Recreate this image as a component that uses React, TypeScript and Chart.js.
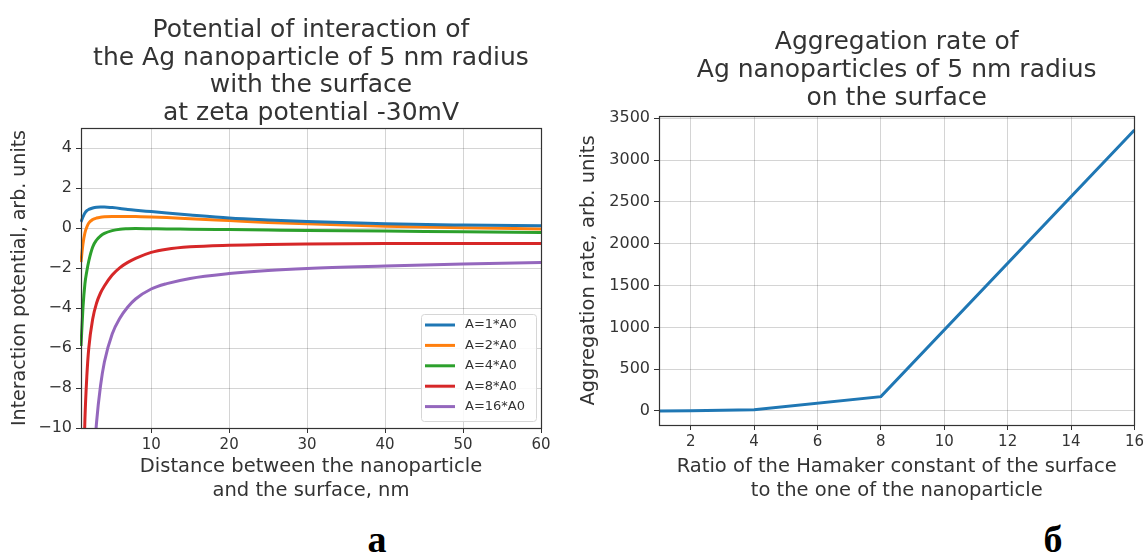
import React, { useEffect, useRef } from "react";
import { Chart, registerables } from "chart.js";

Chart.register(...registerables);

// ---------- data: left chart (interaction potential) ----------
const distanceNm = [1, 1.25, 1.5, 1.75, 2, 2.5, 3, 3.5, 4, 5, 6, 7, 8, 10, 12, 15, 20, 25, 30, 40, 50, 60];
const potentialA1 = [0.3, 0.55, 0.75, 0.87, 0.93, 1.0, 1.04, 1.05, 1.05, 1.02, 0.98, 0.93, 0.89, 0.82, 0.75, 0.65, 0.5, 0.4, 0.32, 0.21, 0.15, 0.11];
const potentialA2 = [-1.7, -0.8, -0.25, 0.05, 0.25, 0.42, 0.5, 0.54, 0.56, 0.58, 0.58, 0.58, 0.57, 0.55, 0.52, 0.46, 0.37, 0.28, 0.21, 0.09, 0.01, -0.05];
const potentialA4 = [-5.9, -4.0, -2.8, -2.15, -1.65, -0.95, -0.6, -0.4, -0.27, -0.13, -0.06, -0.04, -0.03, -0.04, -0.05, -0.06, -0.08, -0.1, -0.12, -0.15, -0.19, -0.22];
const potentialA8 = [-20, -13.5, -9.6, -7.4, -6.0, -4.55, -3.75, -3.25, -2.9, -2.35, -1.98, -1.72, -1.52, -1.22, -1.06, -0.94, -0.86, -0.82, -0.8, -0.78, -0.78, -0.78];
const potentialA16 = [-45, -34, -27, -21, -17, -12.5, -9.7, -7.9, -6.7, -5.3, -4.5, -3.95, -3.55, -3.05, -2.78, -2.52, -2.28, -2.12, -2.02, -1.9, -1.8, -1.73];
const seriesLabels = ["A=1*A0", "A=2*A0", "A=4*A0", "A=8*A0", "A=16*A0"];
const potentialXTicks = [10, 20, 30, 40, 50, 60];
const potentialYTicks = [-10, -8, -6, -4, -2, 0, 2, 4];

// ---------- data: right chart (aggregation rate) ----------
const hamakerRatio = [1, 2, 4, 8, 16];
const aggregationRate = [0, 2, 15, 171, 3360];
const ratioXTicks = [2, 4, 6, 8, 10, 12, 14, 16];
const rateYTicks = [0, 500, 1000, 1500, 2000, 2500, 3000, 3500];

const leftTitle = [
  "Potential of interaction of",
  "the Ag nanoparticle of 5 nm radius",
  "with the surface",
  "at zeta potential -30mV",
];
const leftXLabel = ["Distance between the nanoparticle", "and the surface, nm"];
const leftYLabel = "Interaction potential, arb. units";
const rightTitle = ["Aggregation rate of", "Ag nanoparticles of 5 nm radius", "on the surface"];
const rightXLabel = ["Ratio of the Hamaker constant of the surface", "to the one of the nanoparticle"];
const rightYLabel = "Aggregation rate, arb. units";

const FONT = "'DejaVu Sans', sans-serif";
const TEXT = "#333333";
const GRID = "rgba(0,0,0,0.17)";
const COLORS = ["#1f77b4", "#ff7f0e", "#2ca02c", "#d62728", "#9467bd"];

const fmt = (v: number | string) => String(v).replace("-", "\u2212");

const framePlugin = {
  id: "frame",
  afterDatasetsDraw(chart: any) {
    const { ctx, chartArea } = chart;
    const l = Math.floor(chartArea.left) + 0.5;
    const t = Math.floor(chartArea.top) + 0.5;
    const r = Math.floor(chartArea.right) + 0.5;
    const b = Math.floor(chartArea.bottom) + 0.5;
    ctx.save();
    ctx.strokeStyle = "#333";
    ctx.lineWidth = 1.2;
    ctx.strokeRect(l, t, r - l, b - t);
    ctx.restore();
  },
};

const insetLegend = {
  id: "insetLegend",
  afterDraw(chart: any) {
    const { ctx, chartArea } = chart;
    const w = 115;
    const h = 107;
    const x = Math.floor(chartArea.right) - 120;
    const y = Math.floor(chartArea.bottom) - 114;
    ctx.save();
    ctx.beginPath();
    ctx.roundRect(x + 0.5, y + 0.5, w, h, 3);
    ctx.fillStyle = "rgba(255,255,255,0.85)";
    ctx.fill();
    ctx.strokeStyle = "#d6d6d6";
    ctx.lineWidth = 1;
    ctx.stroke();
    chart.data.datasets.forEach((ds: any, i: number) => {
      const cy = y + 11 + i * 20.4;
      ctx.beginPath();
      ctx.moveTo(x + 4, cy);
      ctx.lineTo(x + 34, cy);
      ctx.strokeStyle = ds.borderColor;
      ctx.lineWidth = 3;
      ctx.stroke();
      ctx.fillStyle = TEXT;
      ctx.font = `13px ${FONT}`;
      ctx.textBaseline = "middle";
      ctx.textAlign = "left";
      ctx.fillText(ds.label, x + 44, cy);
    });
    ctx.restore();
  },
};

function axis(opts: any) {
  const { min, max, ticks, fit, isX, tickSize, title, titleSize, titleLH, titlePad } = opts;
  return {
    type: "linear",
    min,
    max,
    afterFit: (s: any) => {
      if (isX) s.height = fit;
      else s.width = fit;
    },
    afterBuildTicks: (s: any) => {
      s.ticks = ticks.map((v: number) => ({ value: v }));
    },
    ticks: {
      font: { family: FONT, size: tickSize },
      color: TEXT,
      padding: isX ? 3 : 4,
      maxRotation: 0,
      autoSkip: false,
      callback: (v: number) => fmt(v),
    },
    grid: { color: GRID, tickColor: "#333", tickLength: 5, lineWidth: 1, drawTicks: true },
    border: { display: false },
    title: {
      display: true,
      text: title,
      color: TEXT,
      font: { family: FONT, size: titleSize, lineHeight: titleLH },
      padding: titlePad,
    },
  };
}

function LeftChart() {
  const ref = useRef<HTMLCanvasElement | null>(null);
  useEffect(() => {
    if (!ref.current) return;
    const all = [potentialA1, potentialA2, potentialA4, potentialA8, potentialA16];
    const chart = new Chart(ref.current, {
      type: "line",
      data: {
        datasets: all.map((vals, i) => ({
          label: seriesLabels[i],
          data: distanceNm.map((d, j) => ({ x: d, y: vals[j] })),
          borderColor: COLORS[i],
          backgroundColor: COLORS[i],
          borderWidth: 3,
          pointRadius: 0,
          cubicInterpolationMode: "monotone",
          clip: 1,
        })),
      },
      options: {
        animation: false,
        responsive: false,
        devicePixelRatio: 1,
        events: [],
        layout: { padding: { left: 0, right: 29, top: 0, bottom: 0 } },
        plugins: {
          legend: { display: false },
          tooltip: { enabled: false },
          title: {
            display: true,
            text: leftTitle,
            fullSize: false,
            color: TEXT,
            font: { family: FONT, size: 25, weight: "normal", lineHeight: "27.5px" },
            padding: { top: 17, bottom: 1 },
          },
        },
        scales: {
          x: axis({ min: 1, max: 60, ticks: potentialXTicks, fit: 82, isX: true, tickSize: 15, title: leftXLabel, titleSize: 19.5, titleLH: "24px", titlePad: { top: 0, bottom: 7 } }),
          y: axis({ min: -10, max: 5, ticks: potentialYTicks, fit: 81, isX: false, tickSize: 16, title: leftYLabel, titleSize: 19, titleLH: "23px", titlePad: { top: 9, bottom: 0 } }),
        },
      } as any,
      plugins: [framePlugin, insetLegend],
    });
    return () => chart.destroy();
  }, []);
  return <canvas ref={ref} width={570} height={510} style={{ position: "absolute", left: 0, top: 0, width: 570, height: 510 }} />;
}

function RightChart() {
  const ref = useRef<HTMLCanvasElement | null>(null);
  useEffect(() => {
    if (!ref.current) return;
    const chart = new Chart(ref.current, {
      type: "line",
      data: {
        datasets: [
          {
            label: "rate",
            data: hamakerRatio.map((r, j) => ({ x: r, y: aggregationRate[j] })),
            borderColor: COLORS[0],
            backgroundColor: COLORS[0],
            borderWidth: 3,
            pointRadius: 0,
            tension: 0,
            clip: 1,
          },
        ],
      },
      options: {
        animation: false,
        responsive: false,
        devicePixelRatio: 1,
        events: [],
        layout: { padding: { left: 0, right: 10, top: 0, bottom: 0 } },
        plugins: {
          legend: { display: false },
          tooltip: { enabled: false },
          title: {
            display: true,
            text: rightTitle,
            fullSize: false,
            color: TEXT,
            font: { family: FONT, size: 25, weight: "normal", lineHeight: "28px" },
            padding: { top: 28, bottom: 4 },
          },
        },
        scales: {
          x: axis({ min: 1, max: 16, ticks: ratioXTicks, fit: 85, isX: true, tickSize: 15, title: rightXLabel, titleSize: 19.5, titleLH: "24px", titlePad: { top: 0, bottom: 7 } }),
          y: axis({ min: -168, max: 3528, ticks: rateYTicks, fit: 89, isX: false, tickSize: 16, title: rightYLabel, titleSize: 19.5, titleLH: "24px", titlePad: { top: 7, bottom: 0 } }),
        },
      } as any,
      plugins: [framePlugin],
    });
    return () => chart.destroy();
  }, []);
  return <canvas ref={ref} width={577} height={510} style={{ position: "absolute", left: 570, top: 0, width: 577, height: 510 }} />;
}

const panelLetter: React.CSSProperties = {
  position: "absolute",
  top: 520,
  fontFamily: "'Liberation Serif', 'Times New Roman', serif",
  fontWeight: "bold",
  fontSize: 38,
  lineHeight: "38px",
  color: "#000",
  transform: "translateX(-50%)",
};

export default function App() {
  return (
    <div style={{ position: "fixed", left: 0, top: 0, width: 1147, height: 555, background: "#fff", overflow: "hidden" }}>
      <LeftChart />
      <RightChart />
      <div style={{ ...panelLetter, left: 377 }}>а</div>
      <div style={{ ...panelLetter, left: 1053 }}>б</div>
    </div>
  );
}
